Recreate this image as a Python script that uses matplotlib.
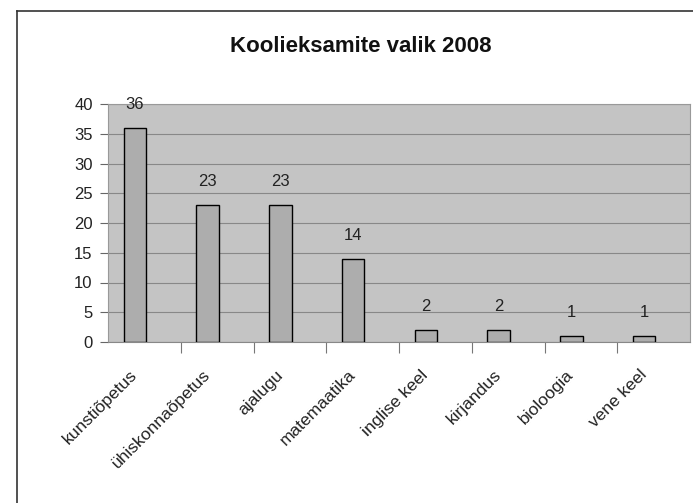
import matplotlib.pyplot as plt
from matplotlib.lines import Line2D

plt.rcParams['font.family'] = ['Liberation Sans', 'DejaVu Sans']

categories = ["kunstiõpetus", "ühiskonnaõpetus", "ajalugu", "matemaatika",
              "inglise keel", "kirjandus", "bioloogia", "vene keel"]
values = [36, 23, 23, 14, 2, 2, 1, 1]
yticks = [0, 5, 10, 15, 20, 25, 30, 35, 40]

fig = plt.figure(figsize=(6.93, 5.03), dpi=100)
fig.patch.set_facecolor("white")

# outer chart frame (left and top visible, rest cut off)
fig.add_artist(Line2D([17/693, 17/693], [0, 1 - 11/503], transform=fig.transFigure, color="#333333", lw=1.2))
fig.add_artist(Line2D([17/693, 1], [1 - 11/503, 1 - 11/503], transform=fig.transFigure, color="#333333", lw=1.2))

ax = fig.add_axes([108/693, 1 - 342/503, 582/693, (342 - 104)/503])
ax.set_facecolor("#c4c4c4")

# bars sit a bit left of the category centre, like in the original
off = -0.13
x = [i + off for i in range(len(categories))]
ax.bar(x, values, width=0.31, color="#adadad", edgecolor="black", linewidth=1, zorder=3)
for xi, v in zip(x, values):
    ax.text(xi, v + 3.9, str(v), ha="center", va="center", fontsize=12, color="#222222")

ax.set_xlim(-0.5, len(categories) - 0.5)
ax.set_ylim(0, 40)
ax.set_yticks(yticks)
ax.set_yticklabels([str(t) for t in yticks], fontsize=12, color="#222222")
ax.yaxis.grid(True, color="#888888", lw=0.8, zorder=1)
ax.tick_params(axis="y", length=6, width=0.8, color="#666666", pad=5)

ax.set_xticks([i + 0.5 for i in range(len(categories) - 1)])
ax.set_xticklabels([""] * (len(categories) - 1))
ax.tick_params(axis="x", length=8, width=0.8, color="#777777", direction="out")
ax.set_xticks(x, minor=True)
ax.set_xticklabels(categories, minor=True, rotation=45, ha="right", va="center",
                   rotation_mode="anchor", fontsize=12.5, color="#222222")
ax.tick_params(axis="x", which="minor", length=0, pad=22)

for s in ["top", "right", "left"]:
    ax.spines[s].set_color("#999999")
ax.spines["bottom"].set_color("#888888")

fig.text(361/693, 1 - 46/503, "Koolieksamite valik 2008", ha="center", va="center",
         fontsize=16, fontweight="bold", color="#111111")

fig.savefig("out.png", dpi=100)
